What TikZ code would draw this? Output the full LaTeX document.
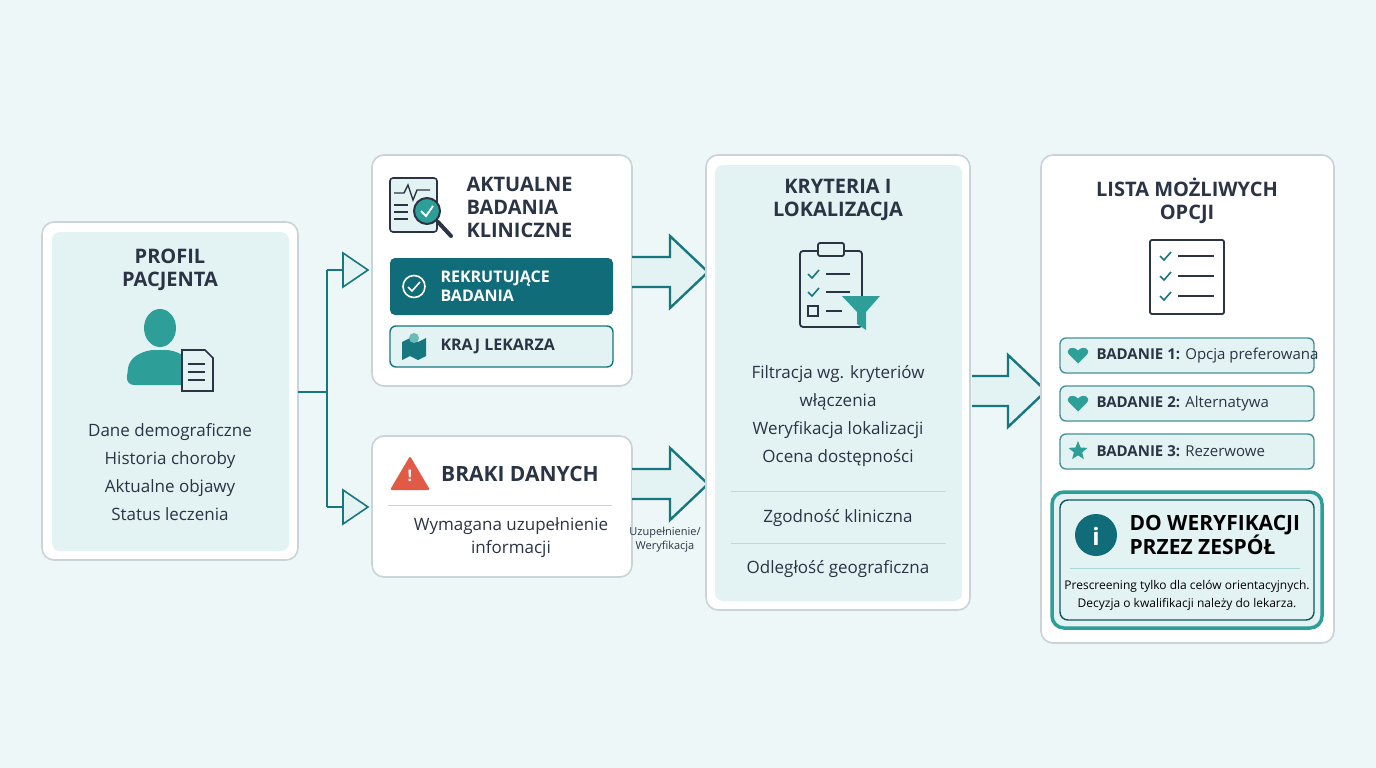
\documentclass[tikz,border=0pt]{standalone}
\usepackage{fontspec}
\setmainfont{Open Sans}
\usetikzlibrary{positioning,shapes.geometric}
\definecolor{bgc}{HTML}{EEF7F8}
\definecolor{tealc}{HTML}{16777F}
\definecolor{darkt}{HTML}{106C78}
\definecolor{lightc}{HTML}{E3F3F3}
\definecolor{ink}{HTML}{2B3444}
\definecolor{framec}{HTML}{C9D3D8}
\definecolor{iconc}{HTML}{2E9E98}
\definecolor{warnc}{HTML}{E05A45}

\tikzset{
	panel/.style={draw=framec, line width=1.6pt, fill=white, rounded corners=12pt},
	inpanel/.style={fill=lightc, rounded corners=8pt},
	title/.style={font=\bfseries\fontsize{20}{23}\selectfont, text=ink, align=center},
	body/.style={font=\fontsize{17}{28}\selectfont, text=ink, align=center},
	chip/.style={draw=tealc, line width=1.4pt, fill=lightc, rounded corners=6pt},
	bigarrow/.style={draw=tealc, line width=2.4pt, fill=lightc, line join=miter},
	sep/.style={draw=framec, line width=1pt},
}
% hollow block arrow: start x, y, length
\newcommand{\blockarr}[3]{%
	\draw[bigarrow] (#1,#2-15) -- (#1+#3-38,#2-15) -- (#1+#3-38,#2-36) -- (#1+#3,#2)
		-- (#1+#3-38,#2+36) -- (#1+#3-38,#2+15) -- (#1,#2+15);}

\begin{document}
\begin{tikzpicture}[x=1pt,y=-1pt]
	\useasboundingbox[fill=bgc] (0,0) rectangle (1376,768);

	% patient profile
	\draw[panel] (42,222) rectangle (298,560);
	\fill[inpanel] (52,232) rectangle (289,551);
	\node[title] (prof) at (170,270) {PROFIL\\PACJENTA};
	\fill[iconc] (160,328) ellipse (16 and 19);
	\fill[iconc,rounded corners=8pt] (126,385) -- (129,360) -- (146,350) -- (174,350) -- (190,360) -- (193,385) -- cycle;
	\draw[ink,line width=1.6pt,fill=lightc] (182,350) -- (205,350) -- (213,358) -- (213,391) -- (182,391) -- cycle;
	\foreach \y in {364,372,380} \draw[ink,line width=1.4pt] (188,\y) -- (205,\y);
	\node[body] (dane) at (170,472) {Dane demograficzne\\Historia choroby\\Aktualne objawy\\Status leczenia};

	% branching connector
	\coordinate (fork) at (327,392);
	\coordinate (up) at (327,270);
	\coordinate (down) at (327,507);
	\draw[tealc,line width=1.6pt] (298,392) -- (fork) (up) -- (down);
	\draw[tealc,line width=1.6pt,rounded corners=4pt] (up) -- (342,270) (down) -- (342,507);
	\foreach \y in {270,507}
		\draw[tealc,line width=1.6pt,fill=lightc] (343,\y-17) -- (368,\y) -- (343,\y+17) -- cycle;

	% current trials
	\draw[panel] (372,155) rectangle (632,386);
	\node[title,align=left,anchor=west] (akt) at (463,207) {AKTUALNE\\BADANIA\\KLINICZNE};
	\draw[ink,line width=1.6pt,rounded corners=3pt,fill=lightc] (390,178) rectangle (437,232);
	\draw[ink,line width=1.4pt] (394,193) -- (404,193) -- (408,185) -- (413,200) -- (417,190) -- (430,190);
	\foreach \y in {205,212,219} \draw[ink,line width=1.4pt] (394,\y) -- (408,\y);
	\draw[ink,line width=4pt,line cap=round] (438,222) -- (451,236);
	\draw[ink,line width=2pt,fill=iconc] (427,211) circle (13);
	\draw[white,line width=1.8pt] (421,211) -- (426,216) -- (433,206);
	\node[fill=darkt,rounded corners=5pt,minimum width=223pt,minimum height=57pt] (rek) at (501.5,286.5) {};
	\node[font=\bfseries\fontsize{16}{19}\selectfont,text=white,align=left,anchor=west] at (437,286.5) {REKRUTUJĄCE\\BADANIA};
	\draw[white,line width=1.6pt] (414,286.5) circle (11);
	\draw[white,line width=1.6pt] (408,287) -- (412,291) -- (420,282);
	\node[chip,minimum width=223pt,minimum height=41pt] (kraj) at (501.5,346.5) {};
	\node[font=\bfseries\fontsize{16}{19}\selectfont,text=ink,anchor=west] at (437,346.5) {KRAJ LEKARZA};
	\fill[tealc] (402,342) -- (410,338) -- (418,342) -- (426,338) -- (426,356) -- (418,360) -- (410,356) -- (402,360) -- cycle;
	\fill[iconc!70] (414,338) circle (5);

	% missing data
	\draw[panel] (372,436) rectangle (632,577);
	\fill[warnc,rounded corners=2pt] (410,456) -- (430,490) -- (390,490) -- cycle;
	\node[font=\bfseries\fontsize{16}{16}\selectfont,text=white] at (410,476) {!};
	\node[title,font=\bfseries\fontsize{21}{24}\selectfont] (braki) at (520,474) {BRAKI DANYCH};
	\draw[sep] (388,505) -- (612,505);
	\node[body,font=\fontsize{17}{23}\selectfont] (wym) at (511,538) {Wymagana uzupełnienie\\informacji};

	% flow arrows
	\blockarr{632}{272}{76}
	\blockarr{632}{484}{76}
	\node[font=\fontsize{11}{14}\selectfont,text=ink,align=center] (uzu) at (665,540) {Uzupełnienie/\\Weryfikacja};

	% criteria
	\draw[panel] (706,155) rectangle (970,610);
	\fill[inpanel] (715,165) rectangle (962,601);
	\node[title] (kry) at (838,200) {KRYTERIA I\\LOKALIZACJA};
	\draw[ink,line width=1.8pt,rounded corners=3pt] (800,251) rectangle (862,327);
	\draw[ink,line width=1.8pt,fill=lightc,rounded corners=2pt] (818,243) rectangle (844,256);
	\foreach \y in {274,292} {
		\draw[tealc,line width=1.6pt] (808,\y) -- (812,\y+4) -- (819,\y-4);
		\draw[ink,line width=1.6pt] (826,\y) -- (850,\y);
	}
	\draw[ink,line width=1.4pt] (808,306) rectangle (818,316);
	\draw[ink,line width=1.6pt] (826,311) -- (842,311);
	\fill[iconc] (842,296) -- (880,296) -- (866,312) -- (866,330) -- (857,324) -- (857,312) -- cycle;
	\node[body] (filt) at (838,416) {Filtracja wg. kryteriów\\włączenia\\Weryfikacja lokalizacji\\Ocena dostępności};
	\draw[sep] (731,491) -- (946,491);
	\node[body] (zgod) at (838,518) {Zgodność kliniczna};
	\draw[sep] (731,543) -- (946,543);
	\node[body] (odl) at (838,569) {Odległość geograficzna};

	\blockarr{972}{391}{74}

	% options list
	\draw[panel] (1041,155) rectangle (1334,643);
	\node[title] (lista) at (1187,201) {LISTA MOŻLIWYCH\\OPCJI};
	\draw[ink,line width=1.8pt,fill=white,rounded corners=2pt] (1150,240) rectangle (1224,314);
	\foreach \y [count=\i] in {256,276,296} {
		\draw[tealc,line width=1.6pt] (1160,\y) -- (1164,\y+4) -- (1171,\y-4);
		\draw[ink,line width=1.8pt] (1178,\y) -- (1214,\y);
	}
	\foreach \y/\num/\txt in {355.5/1/Opcja preferowana, 403.5/2/Alternatywa, 451.5/3/Rezerwowe} {
		\node[chip,draw=tealc!80,minimum width=254pt,minimum height=35pt] (opt\num) at (1187,\y) {};
		\node[font=\fontsize{15}{18}\selectfont,text=ink,anchor=west] at (1093,\y) {\textbf{BADANIE \num:} \txt};
	}
	\foreach \y in {355.5,403.5}
		\fill[iconc] (1078,\y+8) -- (1069,\y-1) .. controls (1065,\y-6) and (1072,\y-11) .. (1078,\y-5)
			.. controls (1084,\y-11) and (1091,\y-6) .. (1087,\y-1) -- cycle;
	\node[star,star points=5,star point ratio=2.3,fill=iconc,minimum size=20pt,inner sep=0pt] (st) at (1078,451) {};

	% verification note
	\draw[draw=iconc,line width=3.5pt,fill=lightc,rounded corners=12pt] (1052,492) rectangle (1322,628);
	\draw[draw=darkt!80!black,line width=1.4pt,rounded corners=8pt] (1060,500) rectangle (1314,620);
	\fill[darkt] (1096,535) circle (21);
	\node[font=\bfseries\fontsize{24}{24}\selectfont,text=white] at (1096,536) {i};
	\node[font=\bfseries\fontsize{21}{23}\selectfont,text=black,align=left,anchor=west] (dow) at (1126,535) {DO WERYFIKACJI\\PRZEZ ZESPÓŁ};
	\draw[sep,draw=iconc!40] (1070,568) -- (1300,568);
	\node[font=\fontsize{12}{18}\selectfont,text=black,align=center] (pres) at (1187,595) {Prescreening tylko dla celów orientacyjnych.\\Decyzja o kwalifikacji należy do lekarza.};
\end{tikzpicture}
\end{document}
